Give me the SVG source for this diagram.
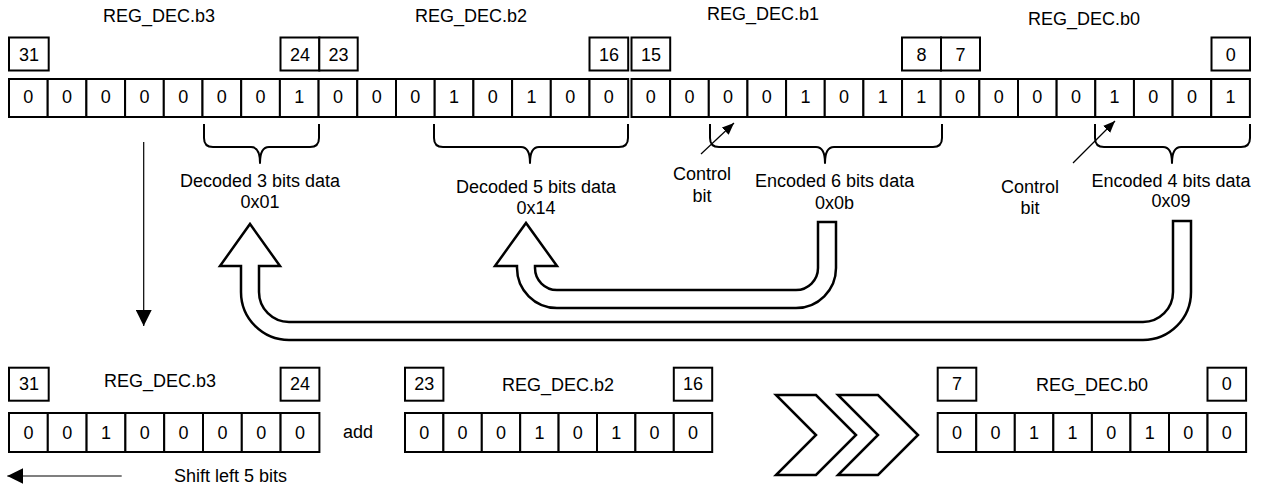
<svg xmlns="http://www.w3.org/2000/svg" width="1265" height="488" viewBox="0 0 1265 488">
<style>
.c{fill:#fff;stroke:#000;stroke-width:2}
.t{font-family:"Liberation Sans",Arial,sans-serif;font-size:18px;text-anchor:middle;fill:#000}
.br{fill:none;stroke:#000;stroke-width:2;stroke-linejoin:round}
.big{fill:#fff;stroke:#000;stroke-width:2.5;stroke-linejoin:miter}
.thin{fill:none;stroke:#000;stroke-width:1.2}
</style>
<defs>
<marker id="ah" viewBox="0 0 16 16" refX="16" refY="8" markerWidth="16" markerHeight="16" markerUnits="userSpaceOnUse" orient="auto"><path d="M0,0 L16,8 L0,16 z" fill="#000"/></marker>
<marker id="ahs" viewBox="0 0 12 10" refX="12" refY="5" markerWidth="12" markerHeight="10" markerUnits="userSpaceOnUse" orient="auto"><path d="M0,0 L12,5 L0,10 z" fill="#000"/></marker>
</defs>
<rect width="1265" height="488" fill="#fff"/>

<g id="titles-top">
<text class="t" x="159" y="22">REG_DEC.b3</text>
<text class="t" x="471" y="22">REG_DEC.b2</text>
<text class="t" x="763" y="20">REG_DEC.b1</text>
<text class="t" x="1084" y="25">REG_DEC.b0</text>
</g>

<g id="bitnums-top">
<rect class="c" x="9" y="37.5" width="39.7" height="33"/><text class="t" x="28.9" y="61">31</text>
<rect class="c" x="280.5" y="37.5" width="38.8" height="33"/><text class="t" x="299.9" y="61">24</text>
<rect class="c" x="319.3" y="37.5" width="38.4" height="33"/><text class="t" x="338.5" y="61">23</text>
<rect class="c" x="589.5" y="37.5" width="38.7" height="33"/><text class="t" x="608.9" y="61">16</text>
<rect class="c" x="631.5" y="37.5" width="38.7" height="33"/><text class="t" x="650.9" y="61">15</text>
<rect class="c" x="902" y="37.5" width="39" height="33"/><text class="t" x="921.5" y="61">8</text>
<rect class="c" x="941" y="37.5" width="39" height="33"/><text class="t" x="960.5" y="61">7</text>
<rect class="c" x="1211.5" y="37.5" width="38.5" height="33"/><text class="t" x="1230.75" y="61">0</text>
</g>

<g id="reg-top">
<rect class="c" x="9" y="79" width="38.7" height="38"/><rect class="c" x="47.7" y="79" width="38.7" height="38"/><rect class="c" x="86.4" y="79" width="38.7" height="38"/><rect class="c" x="125.1" y="79" width="38.7" height="38"/><rect class="c" x="163.8" y="79" width="38.7" height="38"/><rect class="c" x="202.5" y="79" width="38.7" height="38"/><rect class="c" x="241.2" y="79" width="38.7" height="38"/><rect class="c" x="279.9" y="79" width="38.7" height="38"/>
<rect class="c" x="318.6" y="79" width="38.7" height="38"/><rect class="c" x="357.3" y="79" width="38.7" height="38"/><rect class="c" x="396" y="79" width="38.7" height="38"/><rect class="c" x="434.7" y="79" width="38.7" height="38"/><rect class="c" x="473.4" y="79" width="38.7" height="38"/><rect class="c" x="512.1" y="79" width="38.7" height="38"/><rect class="c" x="550.8" y="79" width="38.7" height="38"/><rect class="c" x="589.5" y="79" width="38.7" height="38"/>
<rect class="c" x="631.5" y="79" width="38.65" height="38"/><rect class="c" x="670.15" y="79" width="38.65" height="38"/><rect class="c" x="708.8" y="79" width="38.65" height="38"/><rect class="c" x="747.45" y="79" width="38.65" height="38"/><rect class="c" x="786.1" y="79" width="38.65" height="38"/><rect class="c" x="824.75" y="79" width="38.65" height="38"/><rect class="c" x="863.4" y="79" width="38.65" height="38"/><rect class="c" x="902.05" y="79" width="38.65" height="38"/>
<rect class="c" x="940.7" y="79" width="38.65" height="38"/><rect class="c" x="979.35" y="79" width="38.65" height="38"/><rect class="c" x="1018" y="79" width="38.65" height="38"/><rect class="c" x="1056.65" y="79" width="38.65" height="38"/><rect class="c" x="1095.3" y="79" width="38.65" height="38"/><rect class="c" x="1133.95" y="79" width="38.65" height="38"/><rect class="c" x="1172.6" y="79" width="38.65" height="38"/><rect class="c" x="1211.25" y="79" width="38.65" height="38"/>
<text class="t" x="28.35" y="103">0</text><text class="t" x="67.05" y="103">0</text><text class="t" x="105.75" y="103">0</text><text class="t" x="144.45" y="103">0</text><text class="t" x="183.15" y="103">0</text><text class="t" x="221.85" y="103">0</text><text class="t" x="260.55" y="103">0</text><text class="t" x="299.25" y="103">1</text>
<text class="t" x="337.95" y="103">0</text><text class="t" x="376.65" y="103">0</text><text class="t" x="415.35" y="103">0</text><text class="t" x="454.05" y="103">1</text><text class="t" x="492.75" y="103">0</text><text class="t" x="531.45" y="103">1</text><text class="t" x="570.15" y="103">0</text><text class="t" x="608.85" y="103">0</text>
<text class="t" x="650.8" y="103">0</text><text class="t" x="689.45" y="103">0</text><text class="t" x="728.1" y="103">0</text><text class="t" x="766.75" y="103">0</text><text class="t" x="805.4" y="103">1</text><text class="t" x="844.05" y="103">0</text><text class="t" x="882.7" y="103">1</text><text class="t" x="921.35" y="103">1</text>
<text class="t" x="960" y="103">0</text><text class="t" x="998.65" y="103">0</text><text class="t" x="1037.3" y="103">0</text><text class="t" x="1075.95" y="103">0</text><text class="t" x="1114.6" y="103">1</text><text class="t" x="1153.25" y="103">0</text><text class="t" x="1191.9" y="103">0</text><text class="t" x="1230.55" y="103">1</text>
</g>

<g id="brace-dec3">
<path class="br" d="M204,124 V138 Q204,147 213,147 H251 Q260,147 260,163 Q260,147 269,147 H310 Q319,147 319,138 V124"/>
<text class="t" x="260" y="187">Decoded 3 bits data</text>
<text class="t" x="260" y="208">0x01</text>
</g>
<g id="brace-dec5">
<path class="br" d="M434,124 V138 Q434,147 443,147 H521 Q530,147 530,163 Q530,147 539,147 H619 Q628,147 628,138 V124"/>
<text class="t" x="536" y="193">Decoded 5 bits data</text>
<text class="t" x="536" y="214">0x14</text>
</g>
<g id="brace-enc6">
<path class="br" d="M710,124 V138 Q710,147 719,147 H816 Q825,147 825,163 Q825,147 834,147 H933 Q942,147 942,138 V124"/>
<text class="t" x="834.6" y="187">Encoded 6 bits data</text>
<text class="t" x="834.6" y="209">0x0b</text>
</g>
<g id="brace-enc4">
<path class="br" d="M1095,124 V138 Q1095,147 1104,147 H1163 Q1172,147 1172,163 Q1172,147 1181,147 H1241 Q1250,147 1250,138 V124"/>
<text class="t" x="1171" y="187">Encoded 4 bits data</text>
<text class="t" x="1171" y="207">0x09</text>
</g>
<g id="ctrl1">
<text class="t" x="702" y="180">Control</text>
<text class="t" x="702" y="201.5">bit</text>
</g>
<g id="ctrl2">
<text class="t" x="1030" y="193">Control</text>
<text class="t" x="1030" y="214">bit</text>
</g>

<g id="titles-bottom">
<text class="t" x="160" y="387">REG_DEC.b3</text>
<text class="t" x="558" y="391">REG_DEC.b2</text>
<text class="t" x="1092" y="391">REG_DEC.b0</text>
</g>

<g id="bitnums-bottom">
<rect class="c" x="9" y="367.7" width="39.7" height="33"/><text class="t" x="28.9" y="390">31</text>
<rect class="c" x="280.6" y="367.7" width="38.8" height="33"/><text class="t" x="300" y="390">24</text>
<rect class="c" x="405" y="367.7" width="38.4" height="33"/><text class="t" x="424.2" y="390">23</text>
<rect class="c" x="673.8" y="367.7" width="38.4" height="33"/><text class="t" x="693" y="390">16</text>
<rect class="c" x="937.7" y="367.7" width="38.6" height="33"/><text class="t" x="957" y="390">7</text>
<rect class="c" x="1207.5" y="367.7" width="38.6" height="33"/><text class="t" x="1226.8" y="390">0</text>
</g>

<g id="reg-b3">
<rect class="c" x="9" y="413" width="38.8" height="39"/><rect class="c" x="47.8" y="413" width="38.8" height="39"/><rect class="c" x="86.6" y="413" width="38.8" height="39"/><rect class="c" x="125.4" y="413" width="38.8" height="39"/><rect class="c" x="164.2" y="413" width="38.8" height="39"/><rect class="c" x="203" y="413" width="38.8" height="39"/><rect class="c" x="241.8" y="413" width="38.8" height="39"/><rect class="c" x="280.6" y="413" width="38.8" height="39"/>
<text class="t" x="28.4" y="439">0</text><text class="t" x="67.2" y="439">0</text><text class="t" x="106" y="439">1</text><text class="t" x="144.8" y="439">0</text><text class="t" x="183.6" y="439">0</text><text class="t" x="222.4" y="439">0</text><text class="t" x="261.2" y="439">0</text><text class="t" x="300" y="439">0</text>
</g>
<g id="add-label"><text class="t" x="358" y="438">add</text></g>
<g id="reg-b2">
<rect class="c" x="405" y="413" width="38.4" height="39"/><rect class="c" x="443.4" y="413" width="38.4" height="39"/><rect class="c" x="481.8" y="413" width="38.4" height="39"/><rect class="c" x="520.2" y="413" width="38.4" height="39"/><rect class="c" x="558.6" y="413" width="38.4" height="39"/><rect class="c" x="597" y="413" width="38.4" height="39"/><rect class="c" x="635.4" y="413" width="38.4" height="39"/><rect class="c" x="673.8" y="413" width="38.4" height="39"/>
<text class="t" x="424.2" y="439">0</text><text class="t" x="462.6" y="439">0</text><text class="t" x="501" y="439">0</text><text class="t" x="539.4" y="439">1</text><text class="t" x="577.8" y="439">0</text><text class="t" x="616.2" y="439">1</text><text class="t" x="654.6" y="439">0</text><text class="t" x="693" y="439">0</text>
</g>
<g id="chevrons">
<path class="big" stroke-width="2" d="M776,395 H816 L856,435 L816,475 H776 L816,435 Z"/>
<path class="big" stroke-width="2" d="M838,395 H878 L918,435 L878,475 H838 L878,435 Z"/>
</g>
<g id="reg-b0">
<rect class="c" x="937.7" y="413" width="38.55" height="39"/><rect class="c" x="976.25" y="413" width="38.55" height="39"/><rect class="c" x="1014.8" y="413" width="38.55" height="39"/><rect class="c" x="1053.35" y="413" width="38.55" height="39"/><rect class="c" x="1091.9" y="413" width="38.55" height="39"/><rect class="c" x="1130.45" y="413" width="38.55" height="39"/><rect class="c" x="1169" y="413" width="38.55" height="39"/><rect class="c" x="1207.55" y="413" width="38.55" height="39"/>
<text class="t" x="957" y="439">0</text><text class="t" x="995.5" y="439">0</text><text class="t" x="1034.1" y="439">1</text><text class="t" x="1072.6" y="439">1</text><text class="t" x="1111.2" y="439">0</text><text class="t" x="1149.7" y="439">1</text><text class="t" x="1188.3" y="439">0</text><text class="t" x="1226.8" y="439">0</text>
</g>
<g id="shift-label"><text class="t" x="230.5" y="482">Shift left 5 bits</text></g>

<g id="connectors">
<line class="thin" x1="143.7" y1="142" x2="143.7" y2="326" marker-end="url(#ah)"/>
<line class="thin" x1="121.7" y1="476" x2="7.3" y2="476" marker-end="url(#ah)"/>
<line class="thin" stroke-width="1" x1="701" y1="154" x2="734" y2="123" marker-end="url(#ahs)"/>
<line class="thin" stroke-width="1" x1="1073" y1="163" x2="1115" y2="121" marker-end="url(#ahs)"/>
<path id="arrow-0x0b" class="big" d="M818,222 V268 A22,22 0 0 1 796,290 H557 A22,22 0 0 1 535,268 V266 H557 L526,223 L495,266 H517 V268 A40,40 0 0 0 557,308 H796 A40,40 0 0 0 836,268 V222 Z"/>
<path id="arrow-0x09" class="big" d="M1173,221 V292 A30,30 0 0 1 1143,322 H289 A30,30 0 0 1 259,292 V266 H280 L250,224 L220,266 H241 V292 A48,48 0 0 0 289,340 H1143 A48,48 0 0 0 1191,292 V221 Z"/>
</g>
</svg>
